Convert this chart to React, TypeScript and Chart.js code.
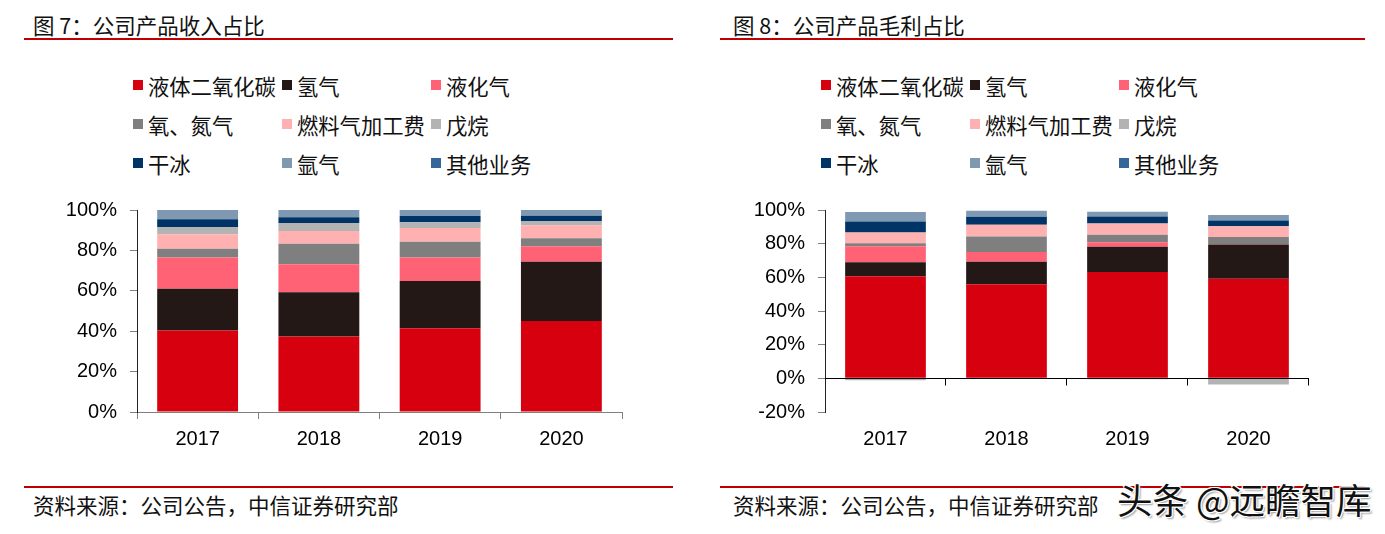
import React, { useEffect, useRef } from "react";
import { Chart, registerables } from "chart.js";

Chart.register(...registerables);

const categories = ["2017", "2018", "2019", "2020"];

const seriesNames = ["液体二氧化碳", "氢气", "液化气", "氧、氮气", "燃料气加工费", "戊烷", "干冰", "氩气", "其他业务"];
const seriesColors = ["#D7000F", "#231815", "#FF6275", "#7F7F7F", "#FFB0B0", "#B3B3B3", "#003366", "#7F99B3", "#336699"];

// 收入占比 (%)
const revCO2 = [40.4, 37.4, 41.5, 45.1];
const revH2 = [20.6, 21.9, 23.4, 29.3];
const revLPG = [15.5, 13.8, 11.6, 7.6];
const revON = [4.3, 10.2, 7.8, 4.0];
const revFuel = [7.2, 6.3, 6.8, 6.5];
const revPentane = [3.6, 4.0, 2.8, 2.0];
const revDryIce = [3.8, 2.8, 3.1, 2.7];
const revArgon = [4.6, 3.6, 3.0, 2.8];
const revOther = [0, 0, 0, 0];

// 毛利占比 (%)
const gmCO2 = [60.7, 55.9, 63.1, 59.1];
const gmH2 = [8.2, 13.3, 15.0, 20.4];
const gmLPG = [9.5, 5.8, 2.8, 0.3];
const gmON = [1.8, 9.3, 4.4, 4.2];
const gmFuel = [6.5, 7.0, 6.7, 6.4];
const gmPentane = [-1.2, 0, -0.6, -3.6];
const gmDryIce = [6.4, 4.7, 4.2, 3.4];
const gmArgon = [5.7, 3.6, 2.8, 3.3];
const gmOther = [0, 0, 0, 0];

const revSeries = [revCO2, revH2, revLPG, revON, revFuel, revPentane, revDryIce, revArgon, revOther];
const gmSeries = [gmCO2, gmH2, gmLPG, gmON, gmFuel, gmPentane, gmDryIce, gmArgon, gmOther];

const CJK = '"Noto Sans CJK SC", "Noto Sans", sans-serif';
const LATIN = '"Liberation Sans", Arial, sans-serif';

const zeroLinePlugin = {
  id: "zeroLine",
  afterDraw(chart: any, _args: any, opts: any) {
    if (!opts || !opts.enabled) return;
    const { ctx, chartArea } = chart;
    const y = Math.round(chart.scales.y.getPixelForValue(0)) + 0.5;
    ctx.save();
    ctx.strokeStyle = "#000";
    ctx.lineWidth = 1;
    ctx.beginPath();
    ctx.moveTo(chartArea.left, y);
    ctx.lineTo(chartArea.right, y);
    const n = categories.length;
    const w = (chartArea.right - chartArea.left) / n;
    for (let i = 1; i <= n; i++) {
      const x = Math.round(chartArea.left + i * w) - 0.5;
      ctx.moveTo(x, y);
      ctx.lineTo(x, y + 7);
    }
    ctx.stroke();
    ctx.restore();
  },
};

type PanelProps = {
  left: number;
  title: string;
  series: number[][];
  yMin: number;
  yAxisWidth: number;
  padRight: number;
  zeroLine: boolean;
};

function Panel({ left, title, series, yMin, yAxisWidth, padRight, zeroLine }: PanelProps) {
  const ref = useRef<HTMLCanvasElement | null>(null);

  useEffect(() => {
    if (!ref.current) return;
    const chart = new Chart(ref.current, {
      type: "bar",
      data: {
        labels: categories,
        datasets: series.map((d, i) => ({
          label: seriesNames[i],
          data: d,
          backgroundColor: seriesColors[i],
          borderWidth: 0,
          barPercentage: 0.667,
          categoryPercentage: 1,
        })),
      },
      plugins: [zeroLinePlugin],
      options: {
        responsive: false,
        devicePixelRatio: 1,
        animation: false,
        layout: { padding: { top: 10, right: padRight, left: 0, bottom: 0 } },
        plugins: {
          legend: { display: false },
          tooltip: { enabled: false },
          zeroLine: { enabled: zeroLine },
        } as any,
        scales: {
          x: {
            stacked: true,
            offset: true,
            border: { display: !zeroLine, color: "#808080", width: 1 },
            grid: {
              display: !zeroLine,
              drawOnChartArea: false,
              drawTicks: !zeroLine,
              tickLength: 7,
              color: "#808080",
            },
            ticks: {
              color: "#000",
              font: { family: LATIN, size: 20 },
              padding: zeroLine ? 15 : 8,
            },
            afterFit: (axis: any) => {
              axis.height = 48;
            },
          },
          y: {
            stacked: true,
            min: yMin,
            max: 100,
            border: { display: true, color: "#222", width: 1 },
            grid: {
              display: true,
              drawOnChartArea: false,
              drawTicks: true,
              tickLength: 7,
              color: "#808080",
            },
            ticks: {
              stepSize: 20,
              color: "#000",
              font: { family: LATIN, size: 20 },
              padding: 13,
              callback: (v: any) => v + "%",
            },
            afterFit: (axis: any) => {
              axis.width = yAxisWidth;
            },
          },
        },
      },
    });
    return () => chart.destroy();
  }, []);

  const legendLeft = left === 0 ? 133 : 821;
  const base = left === 0 ? 0 : 700;

  return (
    <>
      <div
        style={{
          position: "absolute",
          left: base + 33,
          top: 11,
          fontFamily: CJK,
          fontSize: 21.5,
          lineHeight: "28px",
          color: "#111",
          whiteSpace: "nowrap",
        }}
      >
        {title}
      </div>
      <div
        style={{
          position: "absolute",
          left: left === 0 ? 24 : 720,
          top: 38,
          width: left === 0 ? 649 : 645,
          height: 2,
          background: "#C00000",
        }}
      />
      {seriesNames.map((name, i) => {
        const col = i % 3;
        const row = Math.floor(i / 3);
        return (
          <div
            key={name}
            style={{
              position: "absolute",
              left: legendLeft + col * 149,
              top: 86 + row * 39 - 15,
              height: 28,
              display: "flex",
              alignItems: "center",
              whiteSpace: "nowrap",
              fontFamily: CJK,
              fontSize: 21.3,
              color: "#111",
            }}
          >
            <span
              style={{
                display: "inline-block",
                width: 10,
                height: 10,
                background: seriesColors[i],
                marginRight: 5,
              }}
            />
            <span>{name}</span>
          </div>
        );
      })}
      <canvas
        ref={ref}
        width={left === 0 ? 610 : 600}
        height={275}
        style={{ position: "absolute", left: left === 0 ? 20 : 720, top: 185, width: left === 0 ? 610 : 600, height: 275 }}
      />
      <div
        style={{
          position: "absolute",
          left: left === 0 ? 24 : 720,
          top: 486,
          width: left === 0 ? 649 : 645,
          height: 2,
          background: "#C00000",
        }}
      />
      <div
        style={{
          position: "absolute",
          left: base + 33,
          top: 491,
          fontFamily: CJK,
          fontSize: 21.5,
          lineHeight: "28px",
          color: "#111",
          whiteSpace: "nowrap",
        }}
      >
        资料来源：公司公告，中信证券研究部
      </div>
    </>
  );
}

export default function App() {
  return (
    <div style={{ position: "absolute", left: 0, top: 0, width: 1385, height: 534, background: "#fff", overflow: "hidden" }}>
      <Panel left={0} title="图 7：公司产品收入占比" series={revSeries} yMin={0} yAxisWidth={117} padRight={8} zeroLine={false} />
      <Panel left={700} title="图 8：公司产品毛利占比" series={gmSeries} yMin={-20} yAxisWidth={105} padRight={11} zeroLine={true} />
      <div
        style={{
          position: "absolute",
          left: 1117,
          top: 478,
          fontFamily: CJK,
          fontSize: 35.5,
          lineHeight: "42px",
          color: "#111",
          whiteSpace: "nowrap",
          textShadow: "1px 1px 0 #fff, -1px -1px 0 #fff, 1px -1px 0 #fff, -1px 1px 0 #fff, 2px 2px 2px #999",
        }}
      >
        头条 @远瞻智库
      </div>
    </div>
  );
}
